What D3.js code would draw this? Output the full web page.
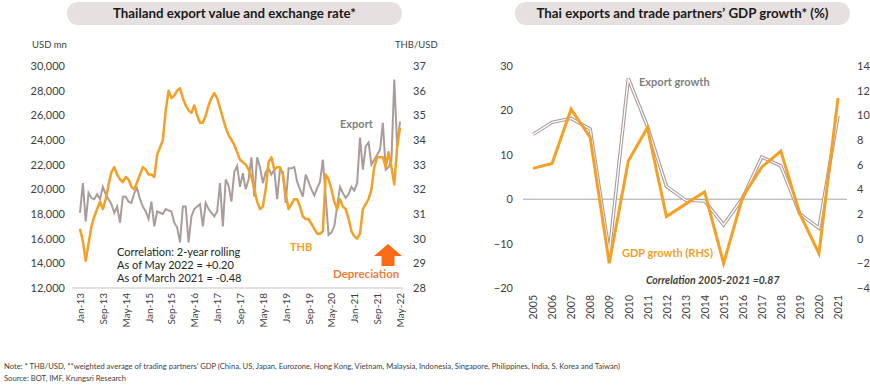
<!DOCTYPE html>
<html>
<head>
<meta charset="utf-8">
<script src="https://cdn.jsdelivr.net/npm/d3@7"></script>
<style>
  body { margin: 0; background: #fff; }
  text { font-family: Lato, "Open Sans", sans-serif; }
</style>
</head>
<body>
<div id="chart"></div>
<script>
// Left chart: monthly, Jan-13 .. May-22
let monthTicks = ["Jan-13", "Sep-13", "May-14", "Jan-15", "Sep-15", "May-16", "Jan-17", "Sep-17",
                  "May-18", "Jan-19", "Sep-19", "May-20", "Jan-21", "Sep-21", "May-22"];

let exportValue = [
  18100, 20500, 17400, 19700, 19300, 19200, 19600, 19200, 20200, 19600, 19200, 18800,
  18100, 18600, 17300, 19400, 19400, 19000, 18900, 19700, 20100, 19200, 18600, 18200,
  17600, 19000, 17000, 18200, 18100, 18000, 18400, 18300, 18200, 17300, 16900, 15700,
  18600, 18600, 15700, 17800, 18400, 18600, 18800, 17000, 18900, 18400, 18100, 17800,
  18200, 20500, 17000, 20800, 20300, 19000, 21400, 21900, 20200, 21300, 20000, 20800,
  22600, 19400, 22600, 21800, 20500, 21400, 21700, 21200, 21600, 19200, 21600, 21400,
  18900, 21700, 21700, 21800, 20600, 20000, 19400, 21200, 20600, 20000, 19500, 20100,
  20600, 22400, 19400, 16300, 16500, 17000, 18600, 20200, 19700, 19300, 19600, 20200,
  19900, 20500, 24200, 21600, 23500, 23800, 22000, 22400, 22800, 23200, 25400, 21600,
  21800, 22300, 28900, 23500, 25500
];

let thbRate = [
  30.4, 29.9, 29.1, 29.8, 30.5, 30.9, 31.2, 31.5, 31.2, 31.6, 32.2, 32.7,
  32.9, 32.6, 32.4, 32.3, 32.5, 32.4, 32.1, 32.0, 32.3, 32.6, 32.9, 32.8,
  32.6, 32.6, 32.5, 33.4, 33.7, 34.0, 35.2, 36.0, 35.7, 35.8, 36.0, 36.1,
  35.7, 35.4, 35.2, 35.1, 35.4, 35.0, 34.7, 34.7, 35.0, 35.4, 35.7, 35.9,
  35.7, 35.3, 34.9, 34.5, 34.2, 34.0, 33.8, 33.5, 33.2, 33.1, 33.0, 32.8,
  32.5, 32.0, 31.5, 31.2, 31.3, 32.0, 33.1, 33.3, 32.8, 32.9, 32.9, 32.6,
  31.8, 31.2, 31.4, 31.6, 31.6, 31.3, 30.9, 30.8, 30.8, 30.6, 30.4, 30.2,
  30.2, 30.3, 32.6, 32.4, 32.0, 31.5, 31.2, 31.6, 31.3, 31.2, 30.8, 30.3,
  30.1, 30.0, 30.2, 31.2, 31.4, 31.6, 32.0, 32.9, 33.3, 33.3, 33.3, 32.9,
  33.5, 32.9, 32.2, 33.7, 34.5
];

let leftTicks = [12000, 14000, 16000, 18000, 20000, 22000, 24000, 26000, 28000, 30000];
let rightTicks = [28, 29, 30, 31, 32, 33, 34, 35, 36, 37];

// Right chart: yearly
let years = ["2005", "2006", "2007", "2008", "2009", "2010", "2011", "2012", "2013",
             "2014", "2015", "2016", "2017", "2018", "2019", "2020", "2021"];
let exportGrowth = [14.6, 17.3, 18.2, 15.8, -12.0, 27.2, 16.4, 2.9, -0.2, -0.4, -5.8, 0.3, 9.5, 7.5, -3.3, -6.5, 18.8];
let gdpGrowth = [5.7, 6.1, 10.5, 8.2, -2.0, 6.3, 9.0, 1.8, 2.8, 3.8, -2.0, 3.4, 5.8, 7.1, 2.0, -1.2, 11.4];
let growthTicks = [-20, -10, 0, 10, 20, 30];
let gdpTicks = [-4, -2, 0, 2, 4, 6, 8, 10, 12, 14];

const orange = "#f5a024";
const grey = "#a99c9b";
const textCol = "#404040";

var svg = d3.select('#chart').append('svg')
            .attr('width', 870)
            .attr('height', 389);

// Title boxes
function titleBox(x, w, label, len) {
  svg.append('rect')
     .attr('x', x).attr('y', 2)
     .attr('width', w).attr('height', 23)
     .attr('rx', 11)
     .style('fill', '#e6e0e0');
  svg.append('text')
     .attr('x', x + w / 2).attr('y', 18)
     .attr('text-anchor', 'middle')
     .attr('font-size', '13px')
     .attr('font-weight', 'bold')
     .attr('fill', '#1a1a1a')
     .attr('textLength', len)
     .attr('lengthAdjust', 'spacingAndGlyphs')
     .text(label);
}
titleBox(67, 335, "Thailand export value and exchange rate*", 243);
titleBox(515, 335, "Thai exports and trade partners\u2019 GDP growth* (%)", 292);

// ---------- Left chart ----------
var xL = d3.scaleLinear().domain([0, exportValue.length - 1]).range([80, 400]);
var yL = d3.scaleLinear().domain([12000, 30000]).range([288, 66]);
var yR = d3.scaleLinear().domain([28, 37]).range([288, 66]);

var left = svg.append('g');

left.append('line')
    .attr('x1', 72).attr('x2', 403)
    .attr('y1', yL(12000)).attr('y2', yL(12000))
    .style('stroke', '#d9d9d9').style('stroke-width', 1.5);

var axL = left.append('g')
    .attr('transform', 'translate(72,0)')
    .call(d3.axisLeft(yL).tickValues(leftTicks).tickSize(0).tickPadding(7).tickFormat(d3.format(',')));
axL.select('.domain').remove();

var axR = left.append('g')
    .attr('transform', 'translate(403,0)')
    .call(d3.axisRight(yR).tickValues(rightTicks).tickSize(0).tickPadding(10));
axR.select('.domain').remove();

var axX = left.append('g')
    .attr('transform', 'translate(0,' + yL(12000) + ')')
    .call(d3.axisBottom(xL)
      .tickValues(monthTicks.map(function(d, i) { return i * 8; }))
      .tickFormat(function(d, i) { return monthTicks[i]; })
      .tickSize(0));
axX.select('.domain').remove();
axX.selectAll('text')
   .attr('transform', 'rotate(-90)')
   .attr('x', -5).attr('y', 0).attr('dy', '0.35em')
   .style('text-anchor', 'end');

[axL, axR, axX].forEach(function(a) {
  a.selectAll('text').attr('fill', textCol).attr('font-size', a === axX ? '10px' : '11px')
   .attr('font-family', 'Lato, sans-serif');
});

left.append('text').attr('x', 32).attr('y', 48).attr('font-size', '9.5px').attr('fill', textCol).text('USD mn');
left.append('text').attr('x', 395).attr('y', 48).attr('font-size', '9.5px').attr('fill', textCol).text('THB/USD');

left.append('path')
    .datum(exportValue)
    .attr('d', d3.line().x(function(d, i) { return xL(i); }).y(function(d) { return yL(d); }))
    .style('fill', 'none').style('stroke', grey).style('stroke-width', 2);

left.append('path')
    .datum(thbRate)
    .attr('d', d3.line().x(function(d, i) { return xL(i); }).y(function(d) { return yR(d); }))
    .style('fill', 'none').style('stroke', orange).style('stroke-width', 2.5)
    .style('stroke-linejoin', 'round');

left.append('text').attr('x', 340).attr('y', 128).attr('font-size', '11px').attr('font-weight', 'bold')
    .attr('fill', '#7f7f7f').text('Export');
left.append('text').attr('x', 290).attr('y', 251).attr('font-size', '11px').attr('font-weight', 'bold')
    .attr('fill', orange).text('THB');

var corr = ["Correlation: 2-year rolling", "As of May 2022 = +0.20", "As of March 2021 = -0.48"];
left.selectAll('.corr')
    .data(corr)
    .enter()
    .append('text')
    .attr('x', 117)
    .attr('y', function(d, i) { return 256 + i * 13; })
    .attr('font-size', '11px')
    .attr('fill', '#262626')
    .text(function(d) { return d; });

// Depreciation arrow
left.append('path')
    .attr('d', 'M388,244 L402,256 L394.5,256 L394.5,266 L381.5,266 L381.5,256 L374,256 Z')
    .style('fill', '#fa6b16');
left.append('text').attr('x', 333).attr('y', 278).attr('font-size', '11.5px').attr('font-weight', 'bold')
    .attr('fill', '#ef7d3a').text('Depreciation');

// ---------- Right chart ----------
var xG = d3.scalePoint().domain(years).range([533, 838]);
var yG = d3.scaleLinear().domain([-20, 30]).range([288, 66]);
var yGR = d3.scaleLinear().domain([-4, 14]).range([288, 66]);

var right = svg.append('g');

right.append('line')
     .attr('x1', 523).attr('x2', 847)
     .attr('y1', yG(0)).attr('y2', yG(0))
     .style('stroke', '#a6a6a6').style('stroke-width', 1);

var gAxL = right.append('g')
    .attr('transform', 'translate(523,0)')
    .call(d3.axisLeft(yG).tickValues(growthTicks).tickSize(0).tickPadding(10));
gAxL.select('.domain').remove();

var gAxR = right.append('g')
    .attr('transform', 'translate(847,0)')
    .call(d3.axisRight(yGR).tickValues(gdpTicks).tickSize(0).tickPadding(10));
gAxR.select('.domain').remove();

var gAxX = right.append('g')
    .attr('transform', 'translate(0,' + yG(-20) + ')')
    .call(d3.axisBottom(xG).tickSize(0));
gAxX.select('.domain').remove();
gAxX.selectAll('text')
    .attr('transform', 'rotate(-90)')
    .attr('x', -7).attr('y', 0).attr('dy', '0.35em')
    .style('text-anchor', 'end');

[gAxL, gAxR, gAxX].forEach(function(a) {
  a.selectAll('text').attr('fill', textCol).attr('font-size', a === gAxX ? '10.5px' : '11px')
   .attr('font-family', 'Lato, sans-serif');
});

var growthLine = d3.line().x(function(d, i) { return xG(years[i]); }).y(function(d) { return yG(d); });
right.append('path')
     .datum(exportGrowth)
     .attr('d', growthLine)
     .style('fill', 'none').style('stroke', grey).style('stroke-width', 3.5);
right.append('path')
     .datum(exportGrowth)
     .attr('d', growthLine)
     .style('fill', 'none').style('stroke', '#fff').style('stroke-width', 1.3);

right.append('path')
     .datum(gdpGrowth)
     .attr('d', d3.line().x(function(d, i) { return xG(years[i]); }).y(function(d) { return yGR(d); }))
     .style('fill', 'none').style('stroke', orange).style('stroke-width', 3);

right.append('text').attr('x', 639).attr('y', 86).attr('font-size', '11px').attr('font-weight', 'bold')
     .attr('fill', '#7f7f7f').text('Export growth');
right.append('text').attr('x', 622).attr('y', 257).attr('font-size', '11px').attr('font-weight', 'bold')
     .attr('fill', orange).text('GDP growth (RHS)');
right.append('text').attr('x', 646).attr('y', 284).attr('font-size', '10.5px').attr('font-weight', 'bold')
     .attr('font-style', 'italic').attr('fill', '#404040').text('Correlation 2005-2021 =0.87');

// Footnotes
svg.append('text').attr('x', 4).attr('y', 369).attr('font-size', '7px').attr('fill', '#404040')
   .attr('textLength', 616).attr('lengthAdjust', 'spacingAndGlyphs')
   .text("Note: * THB/USD, **weighted average of trading partners\u2019 GDP (China, US, Japan, Eurozone, Hong Kong, Vietnam, Malaysia, Indonesia, Singapore, Philippines, India, S. Korea and Taiwan)");
svg.append('text').attr('x', 4).attr('y', 381).attr('font-size', '7px').attr('fill', '#404040')
   .attr('textLength', 122).attr('lengthAdjust', 'spacingAndGlyphs')
   .text("Source: BOT, IMF, Krungsri Research");
</script>
</body>
</html>
